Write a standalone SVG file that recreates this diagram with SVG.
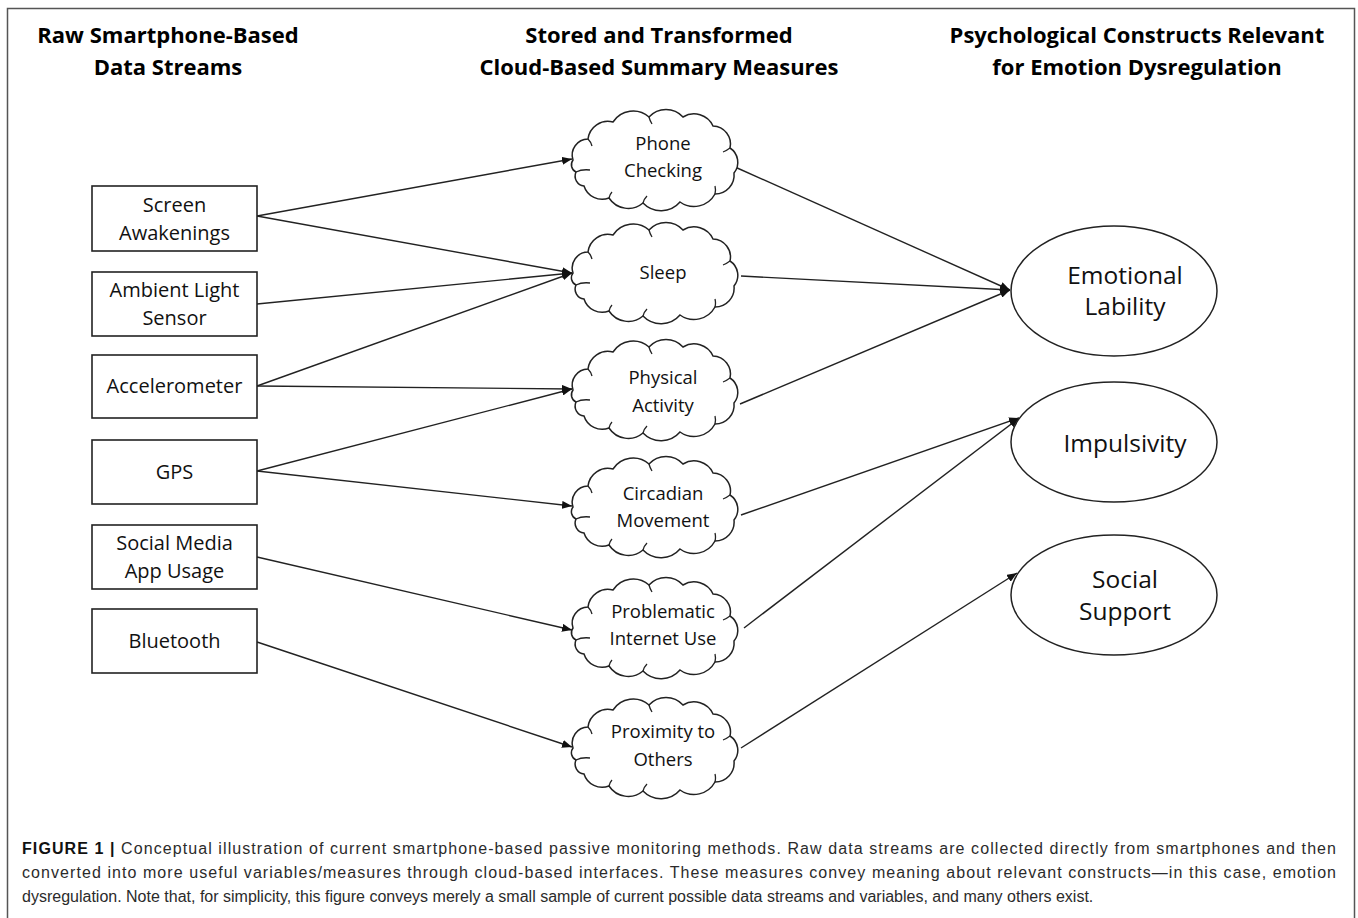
<svg xmlns="http://www.w3.org/2000/svg" width="1358" height="918" viewBox="0 0 1358 918">
<style>
.hdr{font-family:"Open Sans","Liberation Sans",sans-serif;font-weight:bold;font-size:22px;fill:#000;text-anchor:middle}
.box{fill:#fff;stroke:#222;stroke-width:1.6}
.bt{font-family:"Open Sans","Liberation Sans",sans-serif;font-size:20px;fill:#111;text-anchor:middle}
.ct{font-family:"Open Sans","Liberation Sans",sans-serif;font-size:18.5px;fill:#111;text-anchor:middle}
.et{font-family:"Open Sans","Liberation Sans",sans-serif;font-size:24.5px;fill:#111;text-anchor:middle}
.cloud{fill:#fff;stroke:#222;stroke-width:1.5}
.curl{fill:none;stroke:#222;stroke-width:1.3}
.ell{fill:#fff;stroke:#222;stroke-width:1.5}
.con line{stroke:#222;stroke-width:1.4;marker-end:url(#ah)}
.cap{font-family:"Liberation Sans",Arial,sans-serif;font-size:16px;fill:#2b2b2b}
</style>
<defs>
<marker id="ah" markerUnits="userSpaceOnUse" markerWidth="11" markerHeight="8" refX="10" refY="4" orient="auto">
<path d="M0,0 L10,4 L0,8 z" fill="#111"/>
</marker>
<path id="cloudp" d="M-80,0 A16,16 0 0 1 -65,-21 A20,20 0 0 1 -40,-38 A24,24 0 0 1 -4,-43 A23,23 0 0 1 30,-43 A21,21 0 0 1 60,-34 A18,18 0 0 1 77,-12 A17,17 0 0 1 81,13 A19,19 0 0 1 62,34 A24,24 0 0 1 27,42 A25,25 0 0 1 -10,43 A23,23 0 0 1 -44,38 A19,19 0 0 1 -69,26 A10,10 0 0 1 -77,12 A8,8 0 0 1 -80,0 Z"/>
<path id="curlp" d="M-77,12 Q-71,9 -63,10 M-65,-21 Q-62,-18 -61,-14 M-4,-43 Q-3,-39 -1,-36 M77,-12 Q73,-9 70,-8 M62,34 Q63,30 62,26 M-10,43 Q-9,39 -6,36 M-44,38 Q-43,34 -41,32"/>
</defs>
<rect x="7.5" y="8.5" width="1347" height="930" fill="#fff" stroke="#555" stroke-width="1.5"/>

<g id="headers">
<text class="hdr" x="168" y="43">Raw Smartphone-Based</text>
<text class="hdr" x="168" y="75">Data Streams</text>
<text class="hdr" x="659" y="43">Stored and Transformed</text>
<text class="hdr" x="659" y="75">Cloud-Based Summary Measures</text>
<text class="hdr" x="1137" y="43">Psychological Constructs Relevant</text>
<text class="hdr" x="1137" y="75">for Emotion Dysregulation</text>
</g>

<g id="connectors" class="con">
<line x1="257" y1="216" x2="572" y2="159"/>
<line x1="257" y1="216" x2="572" y2="273"/>
<line x1="257" y1="304" x2="572" y2="273"/>
<line x1="257" y1="386" x2="572" y2="273"/>
<line x1="257" y1="386" x2="572" y2="389"/>
<line x1="257" y1="471" x2="572" y2="389"/>
<line x1="257" y1="471" x2="572" y2="506"/>
<line x1="257" y1="557" x2="572" y2="630"/>
<line x1="257" y1="642" x2="572" y2="747"/>
<line x1="735" y1="167" x2="1010" y2="290"/>
<line x1="741" y1="276" x2="1010" y2="290"/>
<line x1="740" y1="404" x2="1010" y2="290"/>
<line x1="741" y1="515" x2="1019" y2="418"/>
<line x1="744" y1="628" x2="1019" y2="418"/>
<line x1="741" y1="748" x2="1017" y2="573"/>
</g>

<g id="screen-awakenings">
<rect class="box" x="92" y="186" width="165" height="65"/>
<text class="bt" x="174.5" y="212">Screen</text>
<text class="bt" x="174.5" y="240">Awakenings</text>
</g>
<g id="ambient-light-sensor">
<rect class="box" x="92" y="272" width="165" height="64"/>
<text class="bt" x="174.5" y="297">Ambient Light</text>
<text class="bt" x="174.5" y="325">Sensor</text>
</g>
<g id="accelerometer">
<rect class="box" x="92" y="355" width="165" height="63"/>
<text class="bt" x="174.5" y="393">Accelerometer</text>
</g>
<g id="gps">
<rect class="box" x="92" y="440" width="165" height="64"/>
<text class="bt" x="174.5" y="479">GPS</text>
</g>
<g id="social-media-app-usage">
<rect class="box" x="92" y="525" width="165" height="64"/>
<text class="bt" x="174.5" y="550">Social Media</text>
<text class="bt" x="174.5" y="578">App Usage</text>
</g>
<g id="bluetooth">
<rect class="box" x="92" y="609" width="165" height="64"/>
<text class="bt" x="174.5" y="648">Bluetooth</text>
</g>

<g id="phone-checking" transform="translate(653,160)">
<use href="#cloudp" class="cloud"/><use href="#curlp" class="curl"/>
<text class="ct" x="10" y="-10">Phone</text>
<text class="ct" x="10" y="17">Checking</text>
</g>
<g id="sleep" transform="translate(653,273)">
<use href="#cloudp" class="cloud"/><use href="#curlp" class="curl"/>
<text class="ct" x="10" y="6">Sleep</text>
</g>
<g id="physical-activity" transform="translate(653,390)">
<use href="#cloudp" class="cloud"/><use href="#curlp" class="curl"/>
<text class="ct" x="10" y="-6">Physical</text>
<text class="ct" x="10" y="22">Activity</text>
</g>
<g id="circadian-movement" transform="translate(653,507)">
<use href="#cloudp" class="cloud"/><use href="#curlp" class="curl"/>
<text class="ct" x="10" y="-7">Circadian</text>
<text class="ct" x="10" y="20">Movement</text>
</g>
<g id="problematic-internet-use" transform="translate(653,628)">
<use href="#cloudp" class="cloud"/><use href="#curlp" class="curl"/>
<text class="ct" x="10" y="-10">Problematic</text>
<text class="ct" x="10" y="17">Internet Use</text>
</g>
<g id="proximity-to-others" transform="translate(653,748)">
<use href="#cloudp" class="cloud"/><use href="#curlp" class="curl"/>
<text class="ct" x="10" y="-10">Proximity to</text>
<text class="ct" x="10" y="18">Others</text>
</g>

<g id="emotional-lability">
<ellipse class="ell" cx="1114" cy="291" rx="103" ry="65"/>
<text class="et" x="1125" y="284">Emotional</text>
<text class="et" x="1125" y="315">Lability</text>
</g>
<g id="impulsivity">
<ellipse class="ell" cx="1114" cy="442" rx="103" ry="60"/>
<text class="et" x="1125" y="452">Impulsivity</text>
</g>
<g id="social-support">
<ellipse class="ell" cx="1114" cy="595" rx="103" ry="60"/>
<text class="et" x="1125" y="588">Social</text>
<text class="et" x="1125" y="620">Support</text>
</g>

<g id="caption">
<text class="cap" x="22" y="854" textLength="1314" lengthAdjust="spacing"><tspan font-weight="bold" fill="#111">FIGURE 1 |</tspan> Conceptual illustration of current smartphone-based passive monitoring methods. Raw data streams are collected directly from smartphones and then</text>
<text class="cap" x="22" y="878" textLength="1314" lengthAdjust="spacing">converted into more useful variables/measures through cloud-based interfaces. These measures convey meaning about relevant constructs—in this case, emotion</text>
<text class="cap" x="22" y="902">dysregulation. Note that, for simplicity, this figure conveys merely a small sample of current possible data streams and variables, and many others exist.</text>
</g>
</svg>
